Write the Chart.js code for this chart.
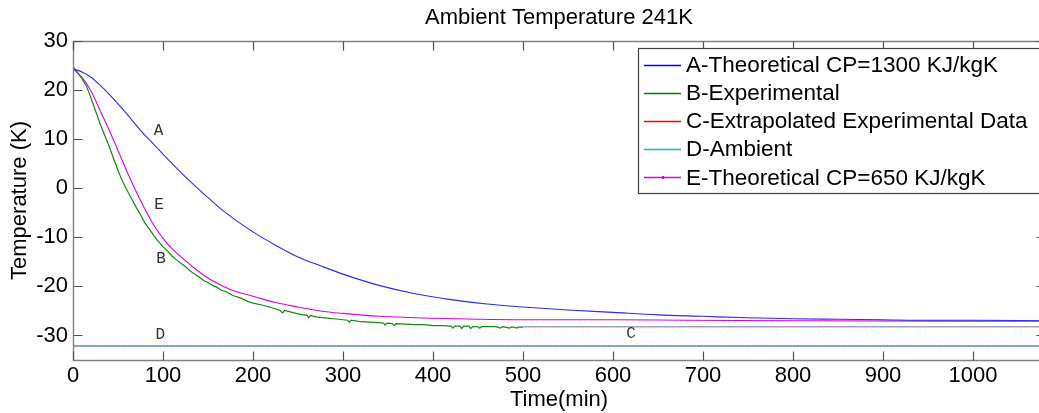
<!DOCTYPE html>
<html><head><meta charset="utf-8">
<script src="https://cdn.jsdelivr.net/npm/chart.js@4/dist/chart.umd.min.js"></script>
<style>
html,body{margin:0;padding:0;background:#fff;overflow:hidden;width:1039px;height:413px}
#wrap{position:relative;width:1050px;height:413px}
canvas{display:block}
</style>
</head><body><div id="wrap"><canvas id="c" width="1050" height="413"></canvas></div>
<script>
const chartTitle = 'Ambient Temperature 241K';
const xTitle = 'Time(min)';
const yTitle = 'Temperature (K)';
const xTicks = [0,100,200,300,400,500,600,700,800,900,1000];
const yTicks = [-30,-20,-10,0,10,20,30];
const seriesNames = ['A-Theoretical CP=1300 KJ/kgK','B-Experimental','C-Extrapolated Experimental Data','D-Ambient','E-Theoretical CP=650 KJ/kgK'];

const aTime = [0,10,20,30,45,60,75,90,105,120,135,150,165,180,200,225,250,275,300,340,380,420,460,500,550,600,650,700,750,800,850,900,950,1000,1080];
const aTemp = [24.3,23.7,22.6,21.0,18.2,15.1,11.8,8.9,6.0,3.2,0.6,-1.9,-4.3,-6.4,-8.9,-11.6,-14.0,-15.8,-17.5,-19.8,-21.5,-22.7,-23.6,-24.2,-24.8,-25.3,-25.8,-26.1,-26.4,-26.6,-26.7,-26.8,-26.9,-26.9,-27.0];

const bTime = [0,5,10,15,20,25,30,35,40,45,50,55,60,65,70,75,80,85,90,95,100,105,110,115,120,125,130,135,140,145,150,155,160,165,170,175,180,185,190,195,200,210,220,230,233,235,250,260,262,264,270,280,290,300,305,307,309,320,330,340,345,347,349,355,357,359,370,380,390,400,410,420,422,424,430,432,434,440,442,444,450,452,454,460,470,475,477,480,485,487,490,493,495,500];
const bTemp = [24.8,23.6,22.3,20.8,18.4,15.8,13.2,10.9,8.6,6.1,3.6,1.4,-0.4,-2.1,-3.8,-5.4,-7.1,-8.4,-9.7,-10.9,-11.9,-12.8,-13.8,-14.6,-15.3,-16.0,-16.8,-17.5,-18.1,-18.8,-19.2,-19.8,-20.2,-20.8,-21.1,-21.6,-22.0,-22.3,-22.7,-23.1,-23.4,-23.8,-24.3,-24.9,-25.4,-24.9,-25.6,-25.9,-26.4,-25.9,-26.2,-26.4,-26.6,-26.8,-26.9,-27.3,-26.9,-27.2,-27.3,-27.4,-27.5,-27.9,-27.5,-27.6,-28.0,-27.6,-27.7,-27.8,-27.8,-28.0,-28.0,-28.1,-28.5,-28.1,-28.1,-28.6,-28.1,-28.1,-28.6,-28.2,-28.2,-28.5,-28.2,-28.2,-28.2,-28.5,-28.2,-28.3,-28.5,-28.3,-28.3,-28.5,-28.3,-28.3];

const cTime = [500,1080];
const cTemp = [-28.2,-28.2];

const dTime = [0,1080];
const dTemp = [-32.15,-32.15];

const eTime = [0,10,20,30,40,50,60,70,80,90,100,110,120,135,150,165,180,200,225,250,275,300,340,400,450,500,600,680,800,1080];
const eTemp = [24.3,22.6,19.8,15.9,11.9,7.7,3.4,-0.6,-4.3,-7.6,-10.2,-12.3,-14.0,-16.3,-18.3,-19.8,-21.0,-22.0,-23.3,-24.2,-25.0,-25.5,-26.1,-26.5,-26.7,-26.8,-26.8,-26.9,-27.0,-27.1];

const annotText = ['A','E','B','D','C'];
const annotTime = [95,95.5,97.8,97,620];
const annotTemp = [11.8,-3.4,-14.3,-29.8,-29.6];

function pts(xs, ys){ return xs.map((x,i)=>({x:x, y:ys[i]})); }
function dotPattern(colors){
  const c=document.createElement('canvas'); c.width=colors.length; c.height=2;
  const g=c.getContext('2d');
  colors.forEach((col,i)=>{ g.fillStyle=col; g.fillRect(i,0,1,2); });
  return g.createPattern(c,'repeat');
}
const cPattern = dotPattern(['#d88080','#a8a8a8','#70c0c0','#c090c0','#9090d8','#b0b0b0']);
const dPattern = dotPattern(['#50a0a0','#a070a0','#6a6ad0','#d06a6a','#5a905a','#808080']);

const legendColors = ['#0000ff','#008000','#ff0000','#00bfbf','#e000e0'];
const FONT = '"Liberation Sans", Arial, sans-serif';

const framePlugin = {
  id: 'frame',
  afterDatasetsDraw(chart){
    const {ctx, chartArea:a, scales:{x, y}} = chart;
    ctx.save();
    ctx.fillStyle = '#303030';
    ctx.font = '16px "Liberation Mono", "Courier New", monospace';
    ctx.textAlign = 'center'; ctx.textBaseline = 'middle';
    annotText.forEach((t,i)=>{
      ctx.fillText(t, x.getPixelForValue(annotTime[i]), y.getPixelForValue(annotTemp[i]));
    });
    ctx.strokeStyle = '#808080'; ctx.lineWidth = 1.4;
    const L = Math.round(a.left)+0.5, R = Math.round(a.right)+0.5, T = Math.round(a.top)+0.5, B = Math.round(a.bottom)+0.5;
    ctx.beginPath();
    ctx.moveTo(L,T); ctx.lineTo(R,T); ctx.lineTo(R,B); ctx.lineTo(L,B); ctx.closePath();
    ctx.stroke();
    ctx.strokeStyle = '#505050'; ctx.lineWidth = 1.2;
    ctx.beginPath();
    xTicks.forEach(v=>{
      const px = Math.round(x.getPixelForValue(v))+0.5;
      ctx.moveTo(px,B); ctx.lineTo(px,B-9);
      ctx.moveTo(px,T); ctx.lineTo(px,T+9);
    });
    yTicks.forEach(v=>{
      const py = Math.round(y.getPixelForValue(v))+0.5;
      ctx.moveTo(L,py); ctx.lineTo(L+9,py);
      ctx.moveTo(R,py); ctx.lineTo(R-9,py);
    });
    ctx.stroke();
    ctx.fillStyle = '#000';
    ctx.font = '22px ' + FONT;
    ctx.textAlign = 'center'; ctx.textBaseline = 'middle';
    ctx.fillText(chartTitle, (a.left + a.right)/2, 18);
    const bx = 638.5, by = 48.5, bw = a.right - 3 - bx, bh = 145;
    ctx.fillStyle = '#fff';
    ctx.fillRect(bx, by, bw, bh);
    ctx.strokeStyle = '#404040'; ctx.lineWidth = 1.2;
    ctx.strokeRect(bx, by, bw, bh);
    ctx.font = '22.5px ' + FONT;
    ctx.textAlign = 'left';
    seriesNames.forEach((n,i)=>{
      const ry = 64.5 + i*28.2;
      ctx.strokeStyle = legendColors[i]; ctx.lineWidth = 1.3;
      ctx.beginPath(); ctx.moveTo(644, Math.round(ry)+0.5); ctx.lineTo(681, Math.round(ry)+0.5); ctx.stroke();
      if (i === 4) { ctx.fillStyle = legendColors[i]; ctx.fillRect(662, Math.round(ry)-1, 2, 3); }
      ctx.fillStyle = '#000';
      ctx.fillText(n, 686, ry + 1);
    });
    ctx.restore();
  }
};

new Chart(document.getElementById('c'), {
  type: 'line',
  data: {
    datasets: [
      {label: seriesNames[0], data: pts(aTime,aTemp), borderColor: '#2a2aff', borderWidth: 1.1, cubicInterpolationMode: 'monotone'},
      {label: seriesNames[1], data: pts(bTime,bTemp), borderColor: '#108a10', borderWidth: 1.2},
      {label: seriesNames[2], data: pts(cTime,cTemp), borderColor: cPattern, borderWidth: 1.5},
      {label: seriesNames[3], data: pts(dTime,dTemp), borderColor: dPattern, borderWidth: 1.5},
      {label: seriesNames[4], data: pts(eTime,eTemp), borderColor: '#dd00dd', borderWidth: 1.1, cubicInterpolationMode: 'monotone'}
    ]
  },
  options: {
    responsive: false,
    devicePixelRatio: 1,
    animation: false,
    events: [],
    elements: { point: { radius: 0 }, line: { tension: 0, fill: false } },
    layout: { padding: { top: 41, right: 5, bottom: 0, left: 0 } },
    plugins: { legend: { display: false }, title: { display: false }, tooltip: { enabled: false } },
    scales: {
      x: {
        type: 'linear', min: 0, max: 1080,
        afterBuildTicks: s => { s.ticks = xTicks.map(v => ({value: v})); },
        afterFit: s => { s.height = 53; },
        grid: { display: false, drawTicks: false },
        border: { display: false },
        ticks: { color: '#000', font: { family: FONT, size: 22 }, padding: 3, maxRotation: 0, autoSkip: false, callback: v => String(v) },
        title: { display: true, text: xTitle, color: '#000', font: { family: FONT, size: 22 }, padding: { top: 0, bottom: 0 } }
      },
      y: {
        type: 'linear', min: -35, max: 30,
        afterBuildTicks: s => { s.ticks = yTicks.map(v => ({value: v})); },
        afterFit: s => { s.width = 73; },
        grid: { display: false, drawTicks: false },
        border: { display: false },
        ticks: { color: '#000', font: { family: FONT, size: 22 }, padding: 5, autoSkip: false, callback: v => String(v) },
        title: { display: true, text: yTitle, color: '#000', font: { family: FONT, size: 22 }, padding: { top: 7, bottom: 0 } }
      }
    }
  },
  plugins: [framePlugin]
});
</script>
</body></html>
